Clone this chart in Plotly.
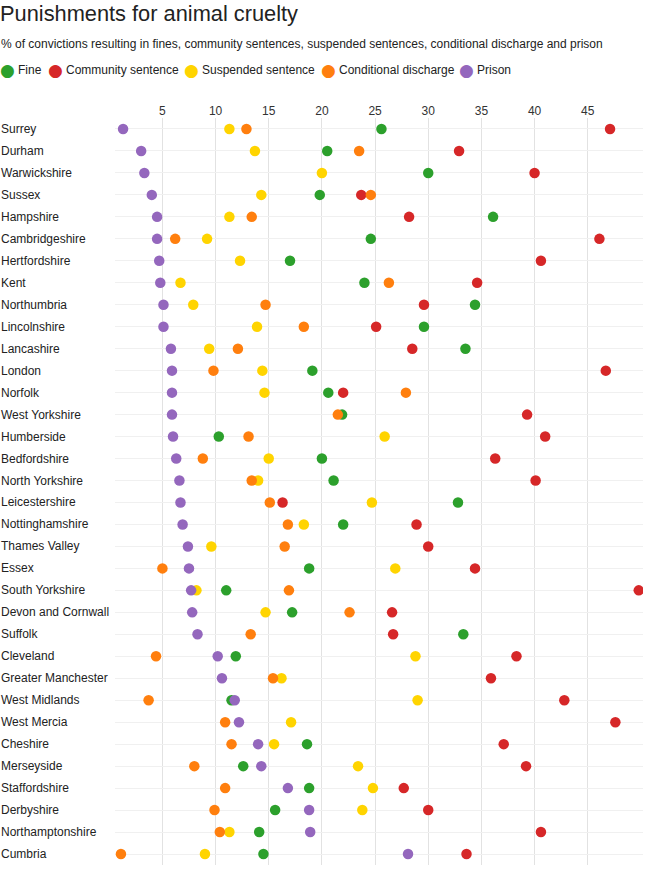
import plotly.graph_objects as go

categories = ["Surrey", "Durham", "Warwickshire", "Sussex", "Hampshire", "Cambridgeshire",
              "Hertfordshire", "Kent", "Northumbria", "Lincolnshire", "Lancashire", "London",
              "Norfolk", "West Yorkshire", "Humberside", "Bedfordshire", "North Yorkshire",
              "Leicestershire", "Nottinghamshire", "Thames Valley", "Essex", "South Yorkshire",
              "Devon and Cornwall", "Suffolk", "Cleveland", "Greater Manchester", "West Midlands",
              "West Mercia", "Cheshire", "Merseyside", "Staffordshire", "Derbyshire",
              "Northamptonshire", "Cumbria"]

fine = [25.6, 20.5, 30.0, 19.8, 36.1, 24.6, 17.0, 24.0, 34.4, 29.6, 33.5, 19.1, 20.6, 21.9,
        10.3, 20.0, 21.1, 32.8, 22.0, None, 18.8, 11.0, 17.2, 33.3, 11.9, None, 11.5, None,
        18.6, 12.6, 18.8, 15.6, 14.1, 14.5]
community = [47.1, 32.9, 40.0, 23.7, 28.2, 46.1, 40.6, 34.6, 29.6, 25.1, 28.5, 46.7, 22.0, 39.3,
             41.0, 36.3, 40.1, 16.3, 28.9, 30.0, 34.4, 49.8, 26.6, 26.7, 38.3, 35.9, 42.8, 47.6,
             37.1, 39.2, 27.7, 30.0, 40.6, 33.6]
suspended = [11.3, 13.7, 20.0, 14.3, 11.3, 9.2, 12.3, 6.7, 7.9, 13.9, 9.4, 14.4, 14.6, None,
             25.9, 15.0, 14.0, 24.7, 18.3, 9.6, 26.9, 8.2, 14.7, None, 28.8, 16.2, 29.0, 17.1,
             15.5, 23.4, 24.8, 23.8, 11.3, 9.0]
conditional = [12.9, 23.5, None, 24.6, 13.4, 6.2, None, 26.3, 14.7, 18.3, 12.1, 9.8, 27.9, 21.5,
               13.1, 8.8, 13.4, 15.1, 16.8, 16.5, 5.0, 16.9, 22.6, 13.3, 4.4, 15.4, 3.7, 10.9,
               11.5, 8.0, 10.9, 9.9, 10.4, 1.1]
prison = [1.3, 3.0, 3.3, 4.0, 4.5, 4.5, 4.7, 4.8, 5.1, 5.1, 5.8, 5.9, 5.9, 5.9, 6.0, 6.3, 6.6,
          6.7, 6.9, 7.4, 7.5, 7.7, 7.8, 8.3, 10.2, 10.6, 11.8, 12.2, 14.0, 14.3, 16.8, 18.8,
          18.9, 28.1]

series_names = ["Fine", "Community sentence", "Suspended sentence", "Conditional discharge", "Prison"]
series_values = [fine, community, suspended, conditional, prison]
series_colors = ["#2ca02c", "#d62728", "#ffd400", "#ff7f0e", "#9467bd"]
tick_values = [5, 10, 15, 20, 25, 30, 35, 40, 45]

FONT = "Liberation Sans, Arial, sans-serif"
W, H = 648, 881
ML, MR, MT, MB = 115, 5, 118, 16
plot_w = W - ML - MR
plot_h = H - MT - MB


def px_x(px):
    return (px - ML) / plot_w


def px_y(py):
    return (H - MB - py) / plot_h


fig = go.Figure()
for name, vals, col in zip(series_names, series_values, series_colors):
    fig.add_trace(go.Scatter(
        x=vals, y=categories, mode="markers", name=name,
        marker=dict(color=col, size=10.5, line=dict(width=0)),
        hovertemplate="%{y}: %{x}<extra>" + name + "</extra>",
    ))

annotations = []
# category labels, left aligned in the left margin
for c in categories:
    annotations.append(dict(
        x=px_x(0), xref="paper", y=c, yref="y", text=c, showarrow=False,
        xanchor="left", yanchor="middle", borderpad=0,
        font=dict(family=FONT, size=12, color="#222"),
    ))
# subtitle
annotations.append(dict(
    x=px_x(0), xref="paper", y=px_y(44), yref="paper",
    text="% of convictions resulting in fines, community sentences, suspended sentences, conditional discharge and prison",
    showarrow=False, xanchor="left", yanchor="middle", borderpad=0,
    font=dict(family=FONT, size=12, color="#222"),
))
# legend row (circle glyph + label)
legend_circle_px = [7, 55, 191, 328, 466]
legend_y = px_y(70)
for name, col, cx in zip(series_names, series_colors, legend_circle_px):
    annotations.append(dict(
        x=px_x(cx), xref="paper", y=px_y(69.5), yref="paper", text="●",
        showarrow=False, xanchor="center", yanchor="middle", borderpad=0,
        font=dict(family="DejaVu Sans, sans-serif", size=17, color=col),
    ))
    annotations.append(dict(
        x=px_x(cx + 10), xref="paper", y=legend_y, yref="paper", text=name,
        showarrow=False, xanchor="left", yanchor="middle", borderpad=0,
        font=dict(family=FONT, size=12, color="#222"),
    ))

fig.update_layout(
    width=W, height=H,
    margin=dict(l=ML, r=MR, t=MT, b=MB, autoexpand=False),
    paper_bgcolor="white", plot_bgcolor="white",
    font=dict(family=FONT, size=12, color="#222"),
    title=dict(text="Punishments for animal cruelty", x=0, xref="container", xanchor="left",
               y=1 - 13 / H, yanchor="middle", yref="container", pad=dict(l=0, t=0),
               font=dict(family=FONT, size=21.8, color="#222")),
    showlegend=False,
    xaxis=dict(side="top", range=[0.54, 50.2], tickvals=tick_values,
               showgrid=True, gridcolor="#e2e2e2", gridwidth=1, zeroline=False,
               showline=False, ticks="", tickfont=dict(family=FONT, size=12, color="#333"),
               fixedrange=True),
    yaxis=dict(categoryorder="array", categoryarray=categories, autorange=False,
               range=[len(categories) - 0.5, -0.5], showticklabels=False,
               showgrid=True, gridcolor="#f0f0f0", gridwidth=1, zeroline=False,
               showline=False, ticks="", fixedrange=True),
    annotations=annotations,
    hovermode="closest",
)

fig.write_html("out.html", config={"displayModeBar": False},
               post_script="document.body.style.margin='0';")
